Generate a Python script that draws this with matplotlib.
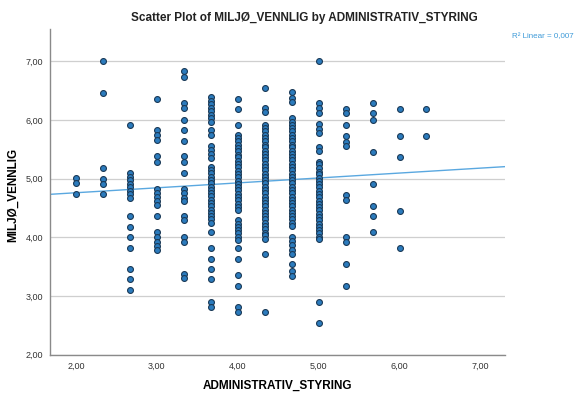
import matplotlib.pyplot as plt

plt.rcParams['font.family'] = ['Liberation Sans', 'DejaVu Sans']

# verdier per nivå av ADMINISTRATIV_STYRING
adm_nivaa = [2.00, 2.33, 2.67, 3.00, 3.33, 3.67, 4.00, 4.33, 4.67, 5.00, 5.33, 5.67, 6.00, 6.33]

miljo_200 = [5.01, 4.92, 4.73]
miljo_233 = [7.00, 6.46, 5.18, 5.00, 4.91, 4.73]
miljo_267 = [5.91, 5.09, 5.03, 4.97, 4.91, 4.85, 4.79, 4.73, 4.67,
             4.37, 4.18, 4.00, 3.81, 3.46, 3.28, 3.10]
miljo_300 = [6.36, 5.82, 5.74, 5.65, 5.38, 5.29, 4.83, 4.76, 4.69, 4.62, 4.55,
             4.37, 4.09, 4.00, 3.92, 3.85, 3.79]
miljo_333 = [6.83, 6.74, 6.29, 6.20, 6.00, 5.82, 5.64, 5.38, 5.29, 5.09,
             4.83, 4.75, 4.67, 4.62, 4.37, 4.29, 4.01, 3.92, 3.38, 3.30]
miljo_367 = [6.39, 6.33, 6.27, 6.21, 6.15, 6.09, 6.03, 5.97, 5.83, 5.75,
             5.56, 5.49, 5.42, 5.35, 5.20, 5.14, 5.09, 5.03, 4.98, 4.92, 4.86,
             4.81, 4.75, 4.70, 4.64, 4.58, 4.53, 4.47, 4.42, 4.36, 4.31, 4.25,
             4.09, 3.81, 3.63, 3.46, 3.28, 2.90, 2.81]
miljo_400 = [6.36, 6.19, 5.92, 5.75, 5.69, 5.64, 5.58, 5.52, 5.47, 5.41, 5.36,
             5.30, 5.24, 5.19, 5.13, 5.08, 5.02, 4.96, 4.91, 4.85, 4.80, 4.74,
             4.69, 4.63, 4.57, 4.52, 4.46, 4.29, 4.23, 4.18, 4.12, 4.07, 4.01,
             3.96, 3.81, 3.63, 3.35, 3.17, 2.81, 2.73]
miljo_433 = [6.54, 6.20, 6.13, 5.92, 5.86, 5.81, 5.75, 5.69, 5.64, 5.58, 5.53,
             5.47, 5.42, 5.36, 5.31, 5.25, 5.19, 5.14, 5.08, 5.03, 4.97, 4.92,
             4.86, 4.81, 4.75, 4.69, 4.64, 4.58, 4.53, 4.47, 4.42, 4.36, 4.31,
             4.25, 4.19, 4.14, 4.08, 4.03, 3.97, 3.72, 2.73]
miljo_467 = [6.47, 6.38, 6.30, 6.03, 5.97, 5.92, 5.86, 5.81, 5.75, 5.69, 5.64,
             5.58, 5.53, 5.47, 5.42, 5.36, 5.31, 5.25, 5.19, 5.14, 5.08, 5.03,
             4.97, 4.92, 4.86, 4.81, 4.75, 4.69, 4.64, 4.58, 4.53, 4.47, 4.42,
             4.36, 4.31, 4.25, 4.19, 4.00, 3.93, 3.86, 3.79, 3.71, 3.54, 3.42, 3.33]
miljo_500 = [7.00, 6.29, 6.20, 6.11, 5.93, 5.84, 5.77, 5.54, 5.47, 5.29, 5.24,
             5.18, 5.12, 5.07, 5.01, 4.96, 4.90, 4.85, 4.79, 4.73, 4.68, 4.62,
             4.57, 4.51, 4.46, 4.40, 4.35, 4.29, 4.23, 4.18, 4.12, 4.07, 4.01,
             3.97, 2.90, 2.53]
miljo_533 = [6.19, 6.11, 5.91, 5.72, 5.63, 5.55, 4.72, 4.64, 4.00, 3.91, 3.54, 3.17]
miljo_567 = [6.28, 6.11, 6.00, 5.45, 4.91, 4.54, 4.36, 4.09]
miljo_600 = [6.19, 5.73, 5.36, 4.45, 3.81]
miljo_633 = [6.19, 5.73]

kolonner = [miljo_200, miljo_233, miljo_267, miljo_300, miljo_333, miljo_367, miljo_400,
            miljo_433, miljo_467, miljo_500, miljo_533, miljo_567, miljo_600, miljo_633]

# lineær tilpasning (konstant og stigning) og forklart varians
konstant = 4.59
stigning = 0.084
r2_tekst = "R\u00b2 Linear = 0,007"

fig = plt.figure(figsize=(5.75, 3.98), dpi=100)
ax = fig.add_axes([50 / 575, 43.5 / 398, 455 / 575, 325.5 / 398])

x_alle = []
y_alle = []
for x, ys in zip(adm_nivaa, kolonner):
    x_alle += [x] * len(ys)
    y_alle += ys

ax.scatter(x_alle, y_alle, s=18, facecolor='#2b7bbd', edgecolor='#1b3a57',
           linewidth=0.8, zorder=3)

xmin, xmax = 1.68, 7.30
ax.plot([xmin, xmax], [konstant + stigning * xmin, konstant + stigning * xmax],
        color='#5aa8e0', linewidth=1.0, zorder=2)

ax.set_xlim(xmin, xmax)
ax.set_ylim(2.0, 7.55)
ax.set_xticks([2, 3, 4, 5, 6, 7])
ax.set_yticks([2, 3, 4, 5, 6, 7])
ax.set_xticklabels([f"{v:.2f}".replace('.', ',') for v in [2, 3, 4, 5, 6, 7]])
ax.set_yticklabels([f"{v:.2f}".replace('.', ',') for v in [2, 3, 4, 5, 6, 7]])
ax.tick_params(length=0, labelsize=6.5, labelcolor='#333333', pad=5)

ax.grid(axis='y', color='#cfcfcf', linewidth=0.9)
ax.set_axisbelow(True)
for side in ['top', 'right']:
    ax.spines[side].set_visible(False)
for side in ['left', 'bottom']:
    ax.spines[side].set_color('#8a8a8a')
    ax.spines[side].set_linewidth(1.0)

ax.set_xlabel("ADMINISTRATIV_STYRING", fontsize=8.5, fontweight='bold', labelpad=7)

# aksetitler og overskrift som figurtekst
fig.text(13 / 575, 1 - 195 / 398, "MILJØ_VENNLIG", rotation=90, ha='center', va='center',
         fontsize=8.5, fontweight='bold')
fig.text(304 / 575, 1 - 18 / 398, "Scatter Plot of MILJØ_VENNLIG by ADMINISTRATIV_STYRING",
         ha='center', va='center', fontsize=8.5, fontweight='bold', color='#222222')
fig.text(0.998, 1 - 37 / 398, r2_tekst, ha='right', va='center', fontsize=5.8, color='#3d9ad8')

fig.savefig("out.png", dpi=100)
